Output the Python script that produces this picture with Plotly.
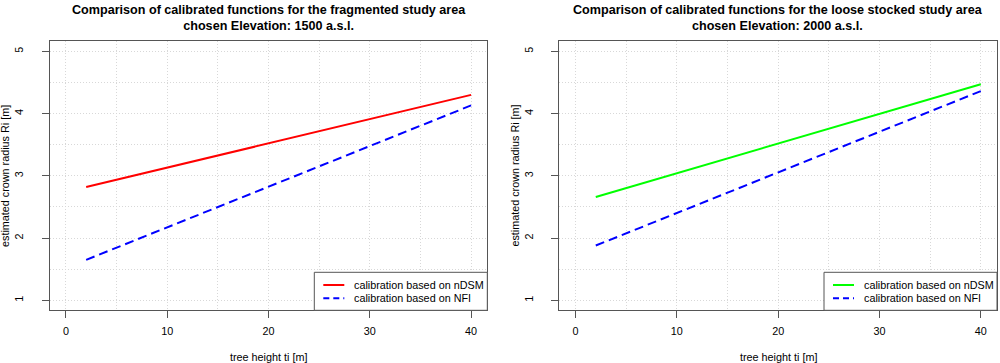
import plotly.graph_objects as go

# ---- data ----
tree_height = [2, 40]
frag_ndsm = [2.82, 4.30]
frag_nfi = [1.65, 4.13]
loose_ndsm = [2.66, 4.47]
loose_nfi = [1.88, 4.36]

x_ticks = [0, 10, 20, 30, 40]
y_ticks = [1, 2, 3, 4, 5]

titles = [
    "Comparison of calibrated functions for the fragmented study area<br>chosen Elevation: 1500 a.s.l.",
    "Comparison of calibrated functions for the loose stocked study area<br>chosen Elevation: 2000 a.s.l.",
]
legend_labels = ["calibration based on nDSM", "calibration based on NFI"]
x_title = "tree height ti [m]"
y_title = "estimated crown radius Ri [m]"

W, H = 1000, 363
FONT = "Liberation Sans, Arial, sans-serif"
AX = "#555555"
GRID = "#d8d8d8"
GDASH = "1px,2px"


def px(x):
    return x / W


def py(y):
    return 1 - y / H


panels = [
    dict(x0=49.7, x1=487.3, ndsm=frag_ndsm, nfi=frag_nfi, col="#FF0000", xa="x", ya="y"),
    dict(x0=559.3, x1=997.0, ndsm=loose_ndsm, nfi=loose_nfi, col="#00FF00", xa="x2", ya="y2"),
]
top, bot = 41.3, 310.3

fig = go.Figure()
shapes = []
annotations = []

for i, p in enumerate(panels):
    fig.add_trace(go.Scatter(x=tree_height, y=p["ndsm"], mode="lines",
                             line=dict(color=p["col"], width=2),
                             xaxis=p["xa"], yaxis=p["ya"], showlegend=False))
    fig.add_trace(go.Scatter(x=tree_height, y=p["nfi"], mode="lines",
                             line=dict(color="#0000FF", width=2, dash="9px,5px"),
                             xaxis=p["xa"], yaxis=p["ya"], showlegend=False))
    sfx = "" if i == 0 else "2"
    axcommon = dict(showline=True, mirror=True, linecolor=AX, linewidth=1,
                    ticks="outside", ticklen=7, tickcolor=AX, tickwidth=1,
                    showgrid=True, gridcolor=GRID, griddash=GDASH, gridwidth=1,
                    zeroline=False,
                    tickfont=dict(family=FONT, size=10.8, color="#000000"))
    fig.update_layout(**{
        "xaxis" + sfx: dict(axcommon, domain=[px(p["x0"]), px(p["x1"])],
                            range=[-1.6, 41.6], tickvals=x_ticks,
                            minor=dict(dtick=5, tick0=0, showgrid=True, gridcolor=GRID,
                                       griddash=GDASH, ticklen=0),
                            anchor="y" + sfx, ticklabelstandoff=4),
        "yaxis" + sfx: dict(axcommon, domain=[py(bot), py(top)],
                            range=[0.84, 5.16], tickvals=y_ticks, tickangle=-90,
                            minor=dict(dtick=0.5, tick0=0, showgrid=True, gridcolor=GRID,
                                       griddash=GDASH, ticklen=0),
                            anchor="x" + sfx, ticklabelstandoff=14),
    })
    cx = (p["x0"] + p["x1"]) / 2
    annotations.append(dict(text="<b>" + titles[i] + "</b>", x=px(cx), y=py(1), xref="paper",
                            yref="paper", xanchor="center", yanchor="top", showarrow=False,
                            font=dict(family=FONT, size=12.6, color="#000000")))
    annotations.append(dict(text=x_title, x=px(cx), y=py(357), xref="paper", yref="paper",
                            xanchor="center", yanchor="middle", showarrow=False,
                            font=dict(family=FONT, size=10.8, color="#000000")))
    annotations.append(dict(text=y_title, x=px(p["x0"] - 44.5), y=py((top + bot) / 2),
                            xref="paper", yref="paper", xanchor="center", yanchor="middle",
                            textangle=-90, showarrow=False,
                            font=dict(family=FONT, size=10.8, color="#000000")))
    # legend box
    lx0 = p["x1"] - 173
    shapes.append(dict(type="rect", xref="paper", yref="paper", x0=px(lx0), x1=px(p["x1"]),
                       y0=py(bot), y1=py(272.3), line=dict(color=AX, width=1),
                       fillcolor="white", layer="above"))
    for j, (lab, c, d) in enumerate(zip(legend_labels, [p["col"], "#0000FF"], ["solid", "6px,4px"])):
        yy = 285 + j * 13.3
        shapes.append(dict(type="line", xref="paper", yref="paper", x0=px(lx0 + 9),
                           x1=px(lx0 + 30), y0=py(yy), y1=py(yy),
                           line=dict(color=c, width=2, dash=d), layer="above"))
        annotations.append(dict(text=lab, x=px(lx0 + 38), y=py(yy), xref="paper", yref="paper",
                                xanchor="left", yanchor="middle", showarrow=False,
                                font=dict(family=FONT, size=10.8, color="#000000")))

fig.update_layout(width=W, height=H, margin=dict(l=0, r=0, t=0, b=0),
                  paper_bgcolor="white", plot_bgcolor="white",
                  shapes=shapes, annotations=annotations, showlegend=False)

fig.write_html("out.html", config={"displayModeBar": False},
               post_script="document.body.style.margin='0';document.body.style.padding='0';"
                           "document.body.style.overflow='hidden';")
